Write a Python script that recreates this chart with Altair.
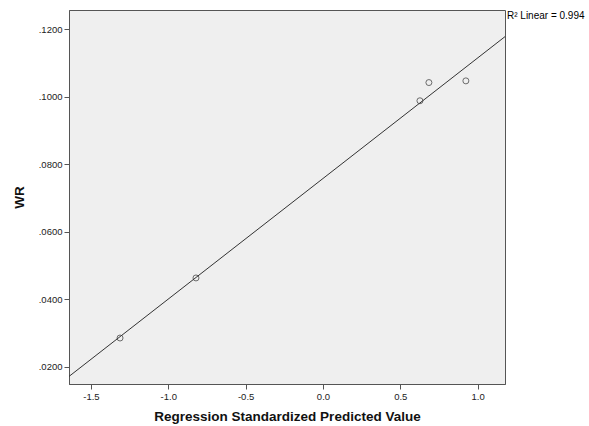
import altair as alt
import pandas as pd

x_vals = [-1.312, -0.821, 0.627, 0.685, 0.924]
wr_vals = [0.0285, 0.0463, 0.0988, 0.1042, 0.1047]
x_ticks = [-1.5, -1.0, -0.5, 0.0, 0.5, 1.0]
y_ticks = [0.02, 0.04, 0.06, 0.08, 0.10, 0.12]
r2_label = "R² Linear = 0.994"

df = pd.DataFrame({"x": x_vals, "WR": wr_vals})

xdom = [-1.642, 1.177]
ydom = [0.01487, 0.1257]

xs = alt.X("x:Q", scale=alt.Scale(domain=xdom, nice=False, zero=False),
           axis=alt.Axis(values=x_ticks, grid=False,
                         labelExpr="datum.value < 0 ? '-' + format(-datum.value, '.1f') : format(datum.value, '.1f')",
                         title="Regression Standardized Predicted Value"))
ys = alt.Y("WR:Q", scale=alt.Scale(domain=ydom, nice=False, zero=False),
           axis=alt.Axis(values=y_ticks, grid=False, title="WR",
                         labelExpr="substring(format(datum.value, '.4f'), 1)"))

pts = alt.Chart(df).mark_point(shape="circle", filled=False, size=36,
                               color="#333333", strokeWidth=1, clip=True).encode(x=xs, y=ys)

line = alt.Chart(df).transform_regression(
    "x", "WR", extent=xdom
).mark_line(color="#333333", strokeWidth=1, clip=True).encode(x=xs, y=ys)

label = alt.Chart(pd.DataFrame({"t": [r2_label]})).mark_text(
    align="left", baseline="middle", fontSize=10, font="Liberation Sans",
    color="#000000"
).encode(text="t:N", x=alt.value(438), y=alt.value(6))

chart = alt.layer(line, pts, label).properties(
    width=436, height=374,
    padding={"left": 69, "top": 10, "right": 84, "bottom": 42},
    autosize=alt.AutoSizeParams(type="none"),
    background="white",
).configure_view(
    fill="#efefef", stroke="#555555", strokeWidth=1
).configure_axis(
    labelFont="Liberation Sans", labelFontSize=9.5, labelColor="#222222",
    titleFont="Liberation Sans", titleFontSize=13.5, titleFontWeight="bold",
    titleColor="#111111", domainColor="#555555", tickColor="#555555",
    tickSize=5, labelPadding=2
).configure_axisX(titlePadding=9).configure_axisY(titlePadding=12)

chart.save("out.html", embed_options={"renderer": "svg", "actions": False})
